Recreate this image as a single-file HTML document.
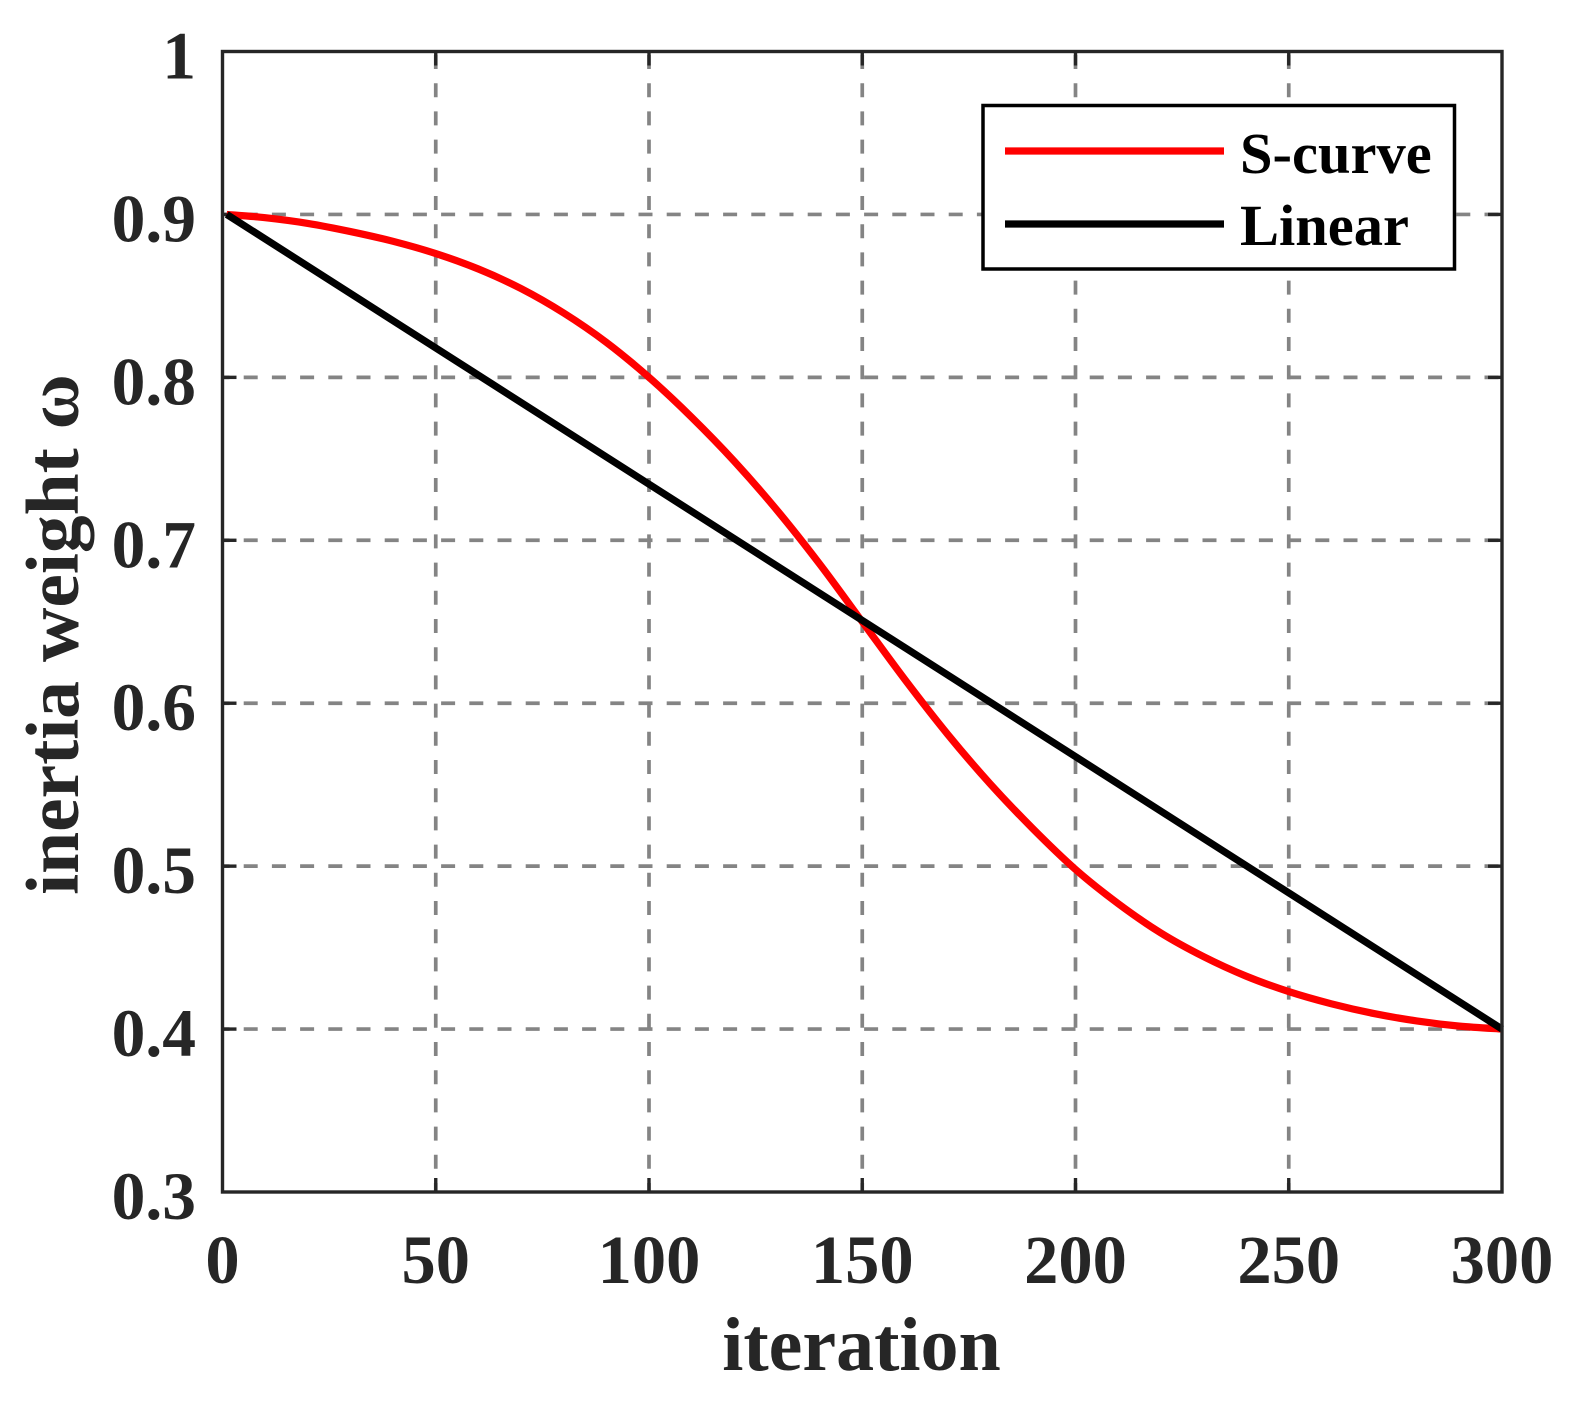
<!DOCTYPE html>
<html>
<head>
<meta charset="utf-8">
<title>Inertia weight chart</title>
<style>
html,body{margin:0;padding:0;background:#fff;width:1575px;height:1401px;overflow:hidden}
svg{display:block}
text{font-family:"Liberation Serif","DejaVu Serif",serif;font-weight:bold}
</style>
</head>
<body>
<svg id="chart" xmlns="http://www.w3.org/2000/svg" width="1575" height="1401" viewBox="0 0 1575 1401">
  <rect x="0" y="0" width="1575" height="1401" fill="#fff"/>
  <g id="grid"></g>
  <g id="ticks"></g>
  <g id="series"></g>
  <rect x="222.5" y="51.5" width="1279.5" height="1140.5" fill="none" stroke="#262626" stroke-width="3.4"/>
  <g id="tick-labels"></g>
  <text x="861.5" y="1370" font-size="76" text-anchor="middle" fill="#262626">iteration</text>
  <text transform="translate(78 634.5) rotate(-90)" font-size="75.5" text-anchor="middle" fill="#262626">inertia weight ω</text>
  <g>
    <rect x="983" y="105.5" width="471.5" height="163.5" fill="#fff" stroke="#000" stroke-width="3.5"/>
    <line x1="1005" y1="151" x2="1224" y2="151" stroke="#f00" stroke-width="7.2"/>
    <text x="1240" y="173" font-size="58.5" fill="#000">S-curve</text>
    <line x1="1005" y1="224" x2="1224" y2="224" stroke="#000" stroke-width="7.2"/>
    <text x="1240" y="245" font-size="58.5" fill="#000">Linear</text>
  </g>
</svg>
<script>
var xTicks = [0, 50, 100, 150, 200, 250, 300];
var yTicks = [0.3, 0.4, 0.5, 0.6, 0.7, 0.8, 0.9, 1];
var yTickLabels = ["0.3", "0.4", "0.5", "0.6", "0.7", "0.8", "0.9", "1"];
var sCurveIterations = [1, 10, 20, 30, 40, 50, 60, 70, 80, 90, 100, 110, 120, 130, 140, 150, 160, 170, 180, 190, 200, 210, 220, 230, 240, 250, 260, 270, 280, 290, 300];
var sCurveValues = [0.9000, 0.8980, 0.8945, 0.8895, 0.8835, 0.8760, 0.8665, 0.8545, 0.8395, 0.8215, 0.8000, 0.7755, 0.7485, 0.7185, 0.6855, 0.6500, 0.6145, 0.5810, 0.5505, 0.5230, 0.4980, 0.4770, 0.4590, 0.4445, 0.4325, 0.4230, 0.4155, 0.4095, 0.4050, 0.4018, 0.4000];
var linearIterations = [1, 300];
var linearValues = [0.900, 0.400];

var SVG_NS = 'http://www.w3.org/2000/svg';
var plotLeft = 222.5, plotRight = 1502, plotTop = 51.5, plotBottom = 1192;
var xDomain = [0, 300], yDomain = [0.3, 1];

function xScale(v) {
  return plotLeft + (v - xDomain[0]) / (xDomain[1] - xDomain[0]) * (plotRight - plotLeft);
}
function yScale(v) {
  return plotBottom - (v - yDomain[0]) / (yDomain[1] - yDomain[0]) * (plotBottom - plotTop);
}
function make(tag, attrs, parent) {
  var el = document.createElementNS(SVG_NS, tag);
  for (var k in attrs) el.setAttribute(k, attrs[k]);
  parent.appendChild(el);
  return el;
}

var gridGroup = document.getElementById('grid');
var tickGroup = document.getElementById('ticks');
var labelGroup = document.getElementById('tick-labels');
var seriesGroup = document.getElementById('series');
var gridStyle = {stroke: '#848484', 'stroke-width': 3.7, 'stroke-dasharray': '14 14.2'};

xTicks.forEach(function (t) {
  var x = xScale(t);
  if (t !== xDomain[0] && t !== xDomain[1]) {
    var g = make('line', {x1: x, y1: plotTop, x2: x, y2: plotBottom, 'stroke-dashoffset': 24.7, stroke: gridStyle.stroke, 'stroke-width': gridStyle['stroke-width'], 'stroke-dasharray': gridStyle['stroke-dasharray']}, gridGroup);
    
    
    var tb = make('line', {x1: x, y1: plotBottom, x2: x, y2: plotBottom - 14, stroke: '#262626', 'stroke-width': 3.4}, tickGroup);
    
    
    var tt = make('line', {x1: x, y1: plotTop, x2: x, y2: plotTop + 14, stroke: '#262626', 'stroke-width': 3.4}, tickGroup);
    
    
  }
  var lab = make('text', {x: x, y: 1283, 'font-size': 68.5, 'text-anchor': 'middle', fill: '#262626'}, labelGroup);
  
  
  lab.textContent = String(t);
});

yTicks.forEach(function (t, i) {
  var y = yScale(t);
  if (t !== yDomain[0] && t !== yDomain[1]) {
    var g = make('line', {x1: plotLeft, y1: y, x2: plotRight, y2: y, 'stroke-dashoffset': 7, stroke: gridStyle.stroke, 'stroke-width': gridStyle['stroke-width'], 'stroke-dasharray': gridStyle['stroke-dasharray']}, gridGroup);
    
    
    var tl = make('line', {x1: plotLeft, y1: y, x2: plotLeft + 14, y2: y, stroke: '#262626', 'stroke-width': 3.4}, tickGroup);
    
    
    var tr = make('line', {x1: plotRight, y1: y, x2: plotRight - 14, y2: y, stroke: '#262626', 'stroke-width': 3.4}, tickGroup);
    
    
  }
  var lab = make('text', {x: 196, y: y + 27, 'font-size': 67.5, 'text-anchor': 'end', fill: '#262626'}, labelGroup);
  
  
  lab.textContent = yTickLabels[i];
});

// Smooth path through the data points (Catmull-Rom converted to cubic Beziers).
function smoothPath(xs, ys) {
  var p = xs.map(function (x, i) { return [xScale(x), yScale(ys[i])]; });
  var d = 'M' + p[0][0].toFixed(2) + ' ' + p[0][1].toFixed(2);
  for (var i = 0; i < p.length - 1; i++) {
    var a = p[Math.max(i - 1, 0)], b = p[i], c = p[i + 1], e = p[Math.min(i + 2, p.length - 1)];
    d += 'C' + (b[0] + (c[0] - a[0]) / 6).toFixed(2) + ' ' + (b[1] + (c[1] - a[1]) / 6).toFixed(2) +
         ' ' + (c[0] - (e[0] - b[0]) / 6).toFixed(2) + ' ' + (c[1] - (e[1] - b[1]) / 6).toFixed(2) +
         ' ' + c[0].toFixed(2) + ' ' + c[1].toFixed(2);
  }
  return d;
}

var redLine = make('path', {d: smoothPath(sCurveIterations, sCurveValues), fill: 'none', stroke: '#f00', 'stroke-width': 7.2}, seriesGroup);



var blackLine = make('path', {d: smoothPath(linearIterations, linearValues), fill: 'none', stroke: '#000', 'stroke-width': 7.2}, seriesGroup);


</script>
</body>
</html>
